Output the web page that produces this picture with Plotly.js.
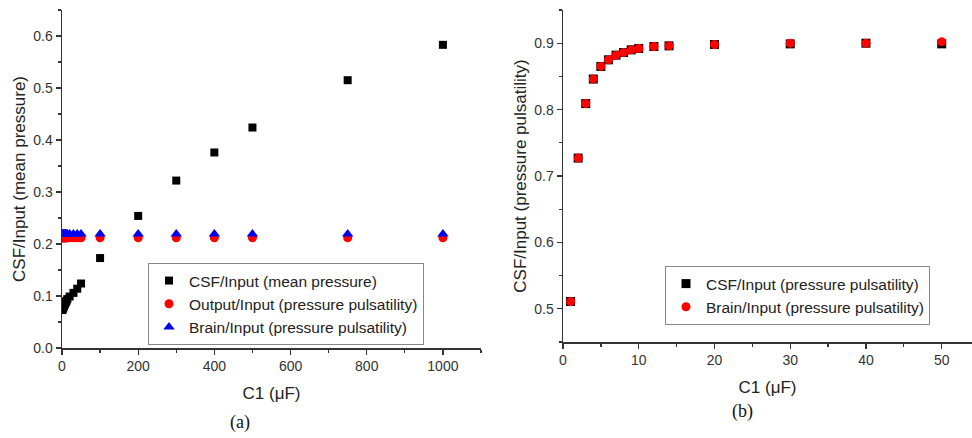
<!DOCTYPE html>
<html>
<head>
<meta charset="utf-8">
<script src="https://cdn.plot.ly/plotly-3.0.1.min.js"></script>
<style>html,body{margin:0;padding:0;background:#fff;}#chart{width:972px;height:438px;}</style>
</head>
<body>
<div id="chart"></div>
<script>
// Panel (a)
const c1A = [1,2,3,4,5,6,7,8,9,10,12,14,20,30,40,50,100,200,300,400,500,750,1000];
const csfMeanA = [0.073,0.075,0.077,0.079,0.081,0.083,0.084,0.086,0.087,0.089,0.091,0.094,0.099,0.106,0.114,0.124,0.173,0.254,0.322,0.376,0.424,0.515,0.583];
const outputPulsA = [0.212,0.212,0.212,0.212,0.212,0.212,0.212,0.212,0.212,0.212,0.212,0.212,0.212,0.212,0.212,0.212,0.212,0.212,0.212,0.212,0.212,0.212,0.212];
const brainPulsA = [0.219,0.219,0.219,0.219,0.219,0.219,0.219,0.219,0.219,0.219,0.219,0.219,0.219,0.219,0.219,0.219,0.219,0.219,0.219,0.219,0.219,0.219,0.219];
// Panel (b)
const c1B = [1,2,3,4,5,6,7,8,9,10,12,14,20,30,40,50];
const csfPulsB = [0.511,0.727,0.809,0.846,0.865,0.875,0.882,0.886,0.890,0.892,0.895,0.896,0.898,0.899,0.900,0.899];
const brainPulsB = [0.511,0.727,0.809,0.846,0.865,0.875,0.882,0.886,0.890,0.892,0.895,0.896,0.898,0.900,0.900,0.902];

const FONT = "Liberation Sans, Arial, sans-serif";
const traces = [
  {x:c1A, y:csfMeanA, type:'scatter', mode:'markers', name:'CSF/Input (mean pressure)',
   marker:{symbol:'square', color:'#000', size:8}, xaxis:'x', yaxis:'y', legend:'legend'},
  {x:c1A, y:outputPulsA, type:'scatter', mode:'markers', name:'Output/Input (pressure pulsatility)',
   marker:{symbol:'circle', color:'#ff0000', size:9}, xaxis:'x', yaxis:'y', legend:'legend'},
  {x:c1A, y:brainPulsA, type:'scatter', mode:'markers', name:'Brain/Input (pressure pulsatility)',
   marker:{symbol:'triangle-up', color:'#0000ee', size:10}, xaxis:'x', yaxis:'y', legend:'legend'},
  {x:c1B, y:csfPulsB, type:'scatter', mode:'markers', name:'CSF/Input (pressure pulsatility)',
   marker:{symbol:'square', color:'#000', size:9}, xaxis:'x2', yaxis:'y2', legend:'legend2'},
  {x:c1B, y:brainPulsB, type:'scatter', mode:'markers', name:'Brain/Input (pressure pulsatility)',
   marker:{symbol:'circle', color:'#ff0000', size:9}, xaxis:'x2', yaxis:'y2', legend:'legend2'}
];

const axBase = {showgrid:false, zeroline:false, showline:true, linecolor:'#333', linewidth:1.5,
  ticks:'outside', ticklen:5, tickwidth:1.3, tickcolor:'#333', mirror:false,
  tickfont:{family:FONT, size:14, color:'#333'}};

const layout = {
  width:972, height:438, margin:{l:0,r:0,t:0,b:0}, paper_bgcolor:'#fff', plot_bgcolor:'#fff',
  font:{family:FONT, color:'#222'},
  xaxis: Object.assign({}, axBase, {domain:[62/972, 481/972], range:[0,1100], dtick:200, tick0:0,
     minor:{ticks:'outside', dtick:100, ticklen:3, tickcolor:'#333'},
     title:{text:'C1 (μF)', font:{family:FONT, size:17, color:'#222'}, standoff:14}, anchor:'y'}),
  yaxis: Object.assign({}, axBase, {domain:[90/438, 428/438], range:[0,0.65], dtick:0.1, tick0:0, tickformat:'.1f',
     minor:{ticks:'outside', dtick:0.05, ticklen:3, tickcolor:'#333'},
     title:{text:'CSF/Input (mean pressure)', font:{family:FONT, size:17, color:'#222'}, standoff:3}, anchor:'x'}),
  xaxis2: Object.assign({}, axBase, {domain:[563/972, 1], range:[0,54], dtick:10, tick0:0,
     minor:{ticks:'outside', dtick:5, ticklen:3, tickcolor:'#333'},
     title:{text:'C1 (μF)', font:{family:FONT, size:17, color:'#222'}, standoff:14}, anchor:'y2'}),
  yaxis2: Object.assign({}, axBase, {domain:[96/438, 428/438], range:[0.45,0.95], dtick:0.1, tick0:0.5, tickformat:'.1f',
     minor:{ticks:'outside', dtick:0.05, ticklen:3, tickcolor:'#333'},
     title:{text:'CSF/Input (pressure pulsatility)', font:{family:FONT, size:17, color:'#222'}, standoff:3}, anchor:'x2'}),
  legend:{x:148/972, y:(438-263)/438, xanchor:'left', yanchor:'top', bgcolor:'#fff', bordercolor:'#888', borderwidth:1,
     font:{family:FONT, size:15.5, color:'#222'}, tracegroupgap:0, itemwidth:30},
  legend2:{x:665/972, y:(438-266)/438, xanchor:'left', yanchor:'top', bgcolor:'#fff', bordercolor:'#888', borderwidth:1,
     font:{family:FONT, size:15.5, color:'#222'}, tracegroupgap:0, itemwidth:30},
  showlegend:true,
  annotations:[
    {text:'(a)', xref:'paper', yref:'paper', x:240/972, y:(438-422)/438, xanchor:'center', yanchor:'middle', showarrow:false,
     font:{family:'Liberation Serif, DejaVu Serif, serif', size:18, color:'#111'}},
    {text:'(b)', xref:'paper', yref:'paper', x:742/972, y:(438-411)/438, xanchor:'center', yanchor:'middle', showarrow:false,
     font:{family:'Liberation Serif, DejaVu Serif, serif', size:18, color:'#111'}}
  ]
};

Plotly.newPlot('chart', traces, layout, {displayModeBar:false, staticPlot:true});
</script>
</body>
</html>
